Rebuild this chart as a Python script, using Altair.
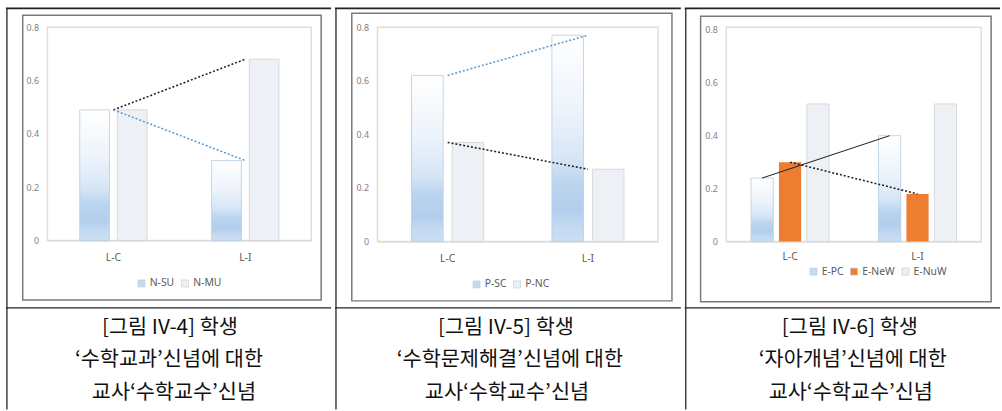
import altair as alt
import pandas as pd

categories = ["L-C", "L-I"]

# panel 1
s1_names = ["N-SU", "N-MU"]
n_su = [0.49, 0.30]
n_mu = [0.49, 0.68]
# panel 2
s2_names = ["P-SC", "P-NC"]
p_sc = [0.62, 0.77]
p_nc = [0.37, 0.27]
# panel 3
s3_names = ["E-PC", "E-NeW", "E-NuW"]
e_pc = [0.24, 0.40]
e_new = [0.30, 0.18]
e_nuw = [0.52, 0.52]

y_ticks = [0, 0.2, 0.4, 0.6, 0.8]

caption1 = ["[그림 IV-4] 학생", "‘수학교과’신념에 대한", "교사‘수학교수’신념"]
caption2 = ["[그림 IV-5] 학생", "‘수학문제해결’신념에 대한", "교사‘수학교수’신념"]
caption3 = ["[그림 IV-6] 학생", "‘자아개념’신념에 대한", "교사‘수학교수’신념"]

GRAD_BASE = "#c6dbf1"
PATTERN = "#edf0f4"
ORANGE = "#ed7d31"
BLUE_DOT = "#5b9bd5"
BLACK_DOT = "#222222"

GRADIENT = {
    "gradient": "linear", "x1": 0, "x2": 0, "y1": 0, "y2": 1,
    "stops": [
        {"offset": 0.0, "color": "#ffffff"},
        {"offset": 0.35, "color": "#eef4fb"},
        {"offset": 0.6, "color": "#d6e6f6"},
        {"offset": 0.72, "color": "#bad4ee"},
        {"offset": 0.85, "color": "#b2ceec"},
        {"offset": 0.93, "color": "#c4daf2"},
        {"offset": 1.0, "color": "#cadef3"},
    ],
}

CAP_Y = [327, 359, 393]


def make_panel(names, series_values, kinds, lines, g, caption):
    rows = []
    for name, vals in zip(names, series_values):
        for c, v in zip(categories, vals):
            rows.append({"cat": c, "series": name, "value": v})
    df = pd.DataFrame(rows)
    pl, pt = g["plot"]
    w, h = g["w"], g["h"]

    xs = alt.Scale(type="band", domain=categories, paddingInner=g["pin"], paddingOuter=g["pin"] / 2)
    xo = alt.Scale(type="band", domain=names, paddingInner=g["poff"], paddingOuter=0)
    ys = alt.Scale(domain=[0, g["ymax"]], nice=False)
    xaxis = alt.Axis(title=None, labelAngle=0, ticks=False, domainColor="#d9d9d9",
                     labelColor="#595959", labelFontSize=10.5, labelPadding=g["xpad"],
                     labelFont="Noto Sans")
    yaxis = alt.Axis(title=None, values=y_ticks, format="~g", grid=False, ticks=False,
                     domain=False, labelColor="#808080", labelFontSize=9, labelPadding=9,
                     labelFont="Noto Sans")
    X = alt.X("cat:N", scale=xs, axis=xaxis)
    XO = alt.XOffset("series:N", scale=xo)
    Y = alt.Y("value:Q", scale=ys, axis=yaxis)

    color_range = [{"grad": GRAD_BASE, "pat": PATTERN, "solid": ORANGE}[k] for k in kinds]
    base = alt.Chart(df)

    one = alt.Chart(pd.DataFrame({"k": [0]}))
    cl, cr = g["cell"]
    # invisible extent of the table cell
    cell = one.mark_rect(opacity=0).encode(
        x=alt.value(cl - pl), x2=alt.value(cr - pl),
        y=alt.value(3 - pt), y2=alt.value(411 - pt))
    fl, fr, ft, fb = g["frame"]
    frame = one.mark_rect(fillOpacity=0, stroke="#7a7a7a", strokeWidth=1.5).encode(
        x=alt.value(fl - pl), x2=alt.value(fr - pl),
        y=alt.value(ft - pt), y2=alt.value(fb - pt))
    top_rule = one.mark_rule(color="#222222", strokeWidth=2).encode(
        x=alt.value(cl - pl), x2=alt.value(cr - pl), y=alt.value(5 - pt))
    mid_rule = one.mark_rule(color="#222222", strokeWidth=1.3).encode(
        x=alt.value(cl - pl), x2=alt.value(cr - pl), y=alt.value(308 - pt))
    left_rule = one.mark_rule(color="#222222", strokeWidth=1.3).encode(
        x=alt.value(g["lrule"] - pl), y=alt.value(5 - pt), y2=alt.value(411 - pt))
    layers = [cell, frame, top_rule, mid_rule, left_rule]
    for line_text, cx, cy in zip(caption, g["capx"], CAP_Y):
        layers.append(one.mark_text(align="center", baseline="middle", fontSize=21,
                                    font="Noto Sans CJK KR", color="#111111").encode(
            x=alt.value(cx - pl), y=alt.value(cy + 1.5 - pt), text=alt.value(line_text)))

    lx, ly = g["legend"]
    bars = base.mark_bar().encode(
        x=X, xOffset=XO, y=Y,
        color=alt.Color("series:N", scale=alt.Scale(domain=names, range=color_range),
                        legend=alt.Legend(title=None, orient="none", legendX=lx - pl,
                                          legendY=ly - pt, direction="horizontal",
                                          symbolType="square", symbolSize=50,
                                          labelFontSize=10.5, labelColor="#595959",
                                          labelFont="Noto Sans", columnPadding=5,
                                          labelOffset=3,
                                          symbolStrokeColor="#c0c8d2",
                                          symbolStrokeWidth=0.6, padding=0)))
    layers.append(bars)

    grad_names = [n for n, k in zip(names, kinds) if k == "grad"]
    pat_names = [n for n, k in zip(names, kinds) if k == "pat"]
    if grad_names:
        layers.append(base.transform_filter(
            alt.FieldOneOfPredicate(field="series", oneOf=grad_names)).mark_bar(
            fill=GRADIENT, stroke="#bccfe4", strokeWidth=0.8).encode(x=X, xOffset=XO, y=Y))
    if pat_names:
        layers.append(base.transform_filter(
            alt.FieldOneOfPredicate(field="series", oneOf=pat_names)).mark_bar(
            fill=PATTERN, stroke="#d2d2d2", strokeWidth=0.8).encode(x=X, xOffset=XO, y=Y))

    for name, col, dash, sw, use_off in lines:
        props = dict(color=col, strokeWidth=sw)
        if dash:
            props["strokeDash"] = dash
        lyr = base.transform_filter(alt.datum.series == name).mark_line(**props)
        if use_off:
            lyr = lyr.encode(x=X, xOffset=XO, y=Y)
        else:
            lyr = lyr.encode(x=alt.X("cat:N", scale=xs, axis=xaxis, bandPosition=0.5), y=Y)
        layers.append(lyr)

    return alt.layer(*layers).properties(width=w, height=h)


p1 = make_panel(
    s1_names, [n_su, n_mu], ["grad", "pat"],
    [("N-MU", BLACK_DOT, [2, 2], 1.6, False), ("N-SU", BLUE_DOT, [2, 2], 1.6, False)],
    dict(plot=(46, 24), w=267, h=216, ymax=0.8, pin=0.49, poff=0.21, cell=(4, 333),
         frame=(21, 323, 12, 300), legend=(136, 278), lrule=5, capx=[170, 169, 174],
         xpad=12),
    caption1)

p2 = make_panel(
    s2_names, [p_sc, p_nc], ["grad", "pat"],
    [("P-SC", BLUE_DOT, [2, 2], 1.6, False), ("P-NC", BLACK_DOT, [2, 2], 1.6, False)],
    dict(plot=(376, 24), w=284, h=217, ymax=0.8, pin=0.486, poff=0.22, cell=(333, 683),
         frame=(350, 674, 10, 301), legend=(471, 279), lrule=334, capx=[506, 510, 507],
         xpad=12),
    caption2)

p3 = make_panel(
    s3_names, [e_pc, e_new, e_nuw], ["grad", "solid", "pat"],
    [("E-PC", "#1a1a1a", None, 1.0, True), ("E-NeW", BLACK_DOT, [2, 2], 1.6, True)],
    dict(plot=(725, 24), w=258, h=217, ymax=0.81, pin=0.388, poff=0.2035, cell=(683, 1002),
         frame=(699, 993, 13, 302), legend=(808, 266), lrule=684, capx=[850, 853, 851],
         xpad=10),
    caption3)

chart = alt.hconcat(p1, p2, p3, spacing=0).resolve_scale(
    color="independent", x="independent", y="independent", xOffset="independent"
).resolve_legend(color="independent").configure_view(
    stroke="#dedede", strokeWidth=1.5
).properties(padding={"left": 4, "top": 3, "right": 0, "bottom": 0}, background="white")

chart.save("out.html", embed_options={"renderer": "svg", "actions": False})
